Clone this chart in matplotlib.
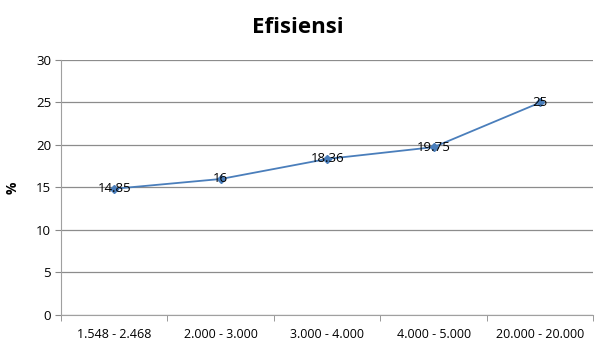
import matplotlib.pyplot as plt

categories = ["1.548 - 2.468", "2.000 - 3.000", "3.000 - 4.000", "4.000 - 5.000", "20.000 - 20.000"]
efisiensi = [14.85, 16, 18.36, 19.75, 25]
value_labels = ["14.85", "16", "18.36", "19.75", "25"]

plt.rcParams['font.family'] = ['Open Sans', 'DejaVu Sans']

fig = plt.figure(figsize=(5.96, 3.44), dpi=100)
ax = fig.add_axes([0.1023, 0.0843, 0.8935, 0.7413])

x = range(len(categories))
ax.plot(x, efisiensi, color='#4A7EBB', lw=1.3, marker='D', ms=4, zorder=3)
for xi, v, lab in zip(x, efisiensi, value_labels):
    ax.text(xi, v, lab, ha='center', va='center', fontsize=9.5, color='black', zorder=4)

ax.set_xlim(-0.5, len(categories) - 0.5)
ax.set_ylim(0, 30)
ax.set_yticks(range(0, 31, 5))
ax.set_xticks(list(x))
ax.set_xticklabels(categories)
ax.set_xticks([i - 0.5 for i in range(len(categories) + 1)], minor=True)
ax.tick_params(axis='x', which='major', length=0, pad=9, labelsize=9)
ax.tick_params(axis='x', which='minor', length=4, color='#888888')
ax.tick_params(axis='y', length=4, color='#888888', labelsize=9.5, pad=3)

ax.grid(axis='y', color='#8c8c8c', lw=0.9)
ax.set_axisbelow(True)
for side in ['top', 'right']:
    ax.spines[side].set_visible(False)
ax.spines['left'].set_color('#a0a0a0')
ax.spines['bottom'].set_color('#a0a0a0')

ax.set_ylabel('%', fontsize=10, fontweight='bold', labelpad=12)
fig.suptitle('Efisiensi', fontsize=16, fontweight='bold', y=0.95)

fig.savefig('out.png', dpi=100)
